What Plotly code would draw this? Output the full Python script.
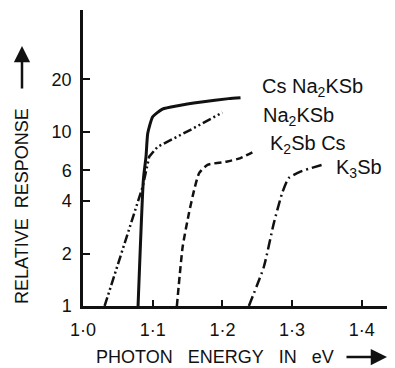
import math
import plotly.graph_objects as go

# ---- data ----
cs_na2ksb_x = [1.079, 1.0866, 1.0904, 1.0929, 1.100, 1.114, 1.136, 1.170, 1.209, 1.226]
cs_na2ksb_y = [1.0, 5.3, 7.2, 9.8, 12.2, 13.5, 14.1, 14.8, 15.5, 15.7]

na2ksb_x = [1.031, 1.0857, 1.095, 1.107, 1.155, 1.200]
na2ksb_y = [1.0, 4.85, 7.2, 8.2, 10.3, 12.9]

k2sbcs_x = [1.1347, 1.143, 1.152, 1.1595, 1.1666, 1.1786, 1.207, 1.226, 1.245]
k2sbcs_y = [1.0, 2.19, 3.41, 4.64, 5.79, 6.46, 6.75, 7.06, 7.7]

k3sb_x = [1.238, 1.2595, 1.2738, 1.2857, 1.295, 1.312, 1.343]
k3sb_y = [1.0, 1.68, 2.99, 4.44, 5.42, 5.91, 6.46]

x_tick_vals = [1.0, 1.1, 1.2, 1.3, 1.4]
x_tick_text = ["1·0", "1·1", "1·2", "1·3", "1·4"]
y_tick_vals = [1, 2, 4, 6, 10, 20]
y_tick_text = ["1", "2", "4", "6", "10", "20"]

labels = [
    ("Cs Na<sub>2</sub>KSb", 1.254, 18.0),
    ("Na<sub>2</sub>KSb", 1.255, 12.2),
    ("K<sub>2</sub>Sb Cs", 1.265, 8.4),
    ("K<sub>3</sub>Sb", 1.360, 6.13),
]

FONT = "Liberation Sans, Arial, sans-serif"
BLACK = "#111111"
SP = "&nbsp;"

fig = go.Figure()
fig.add_trace(go.Scatter(x=cs_na2ksb_x, y=cs_na2ksb_y, mode="lines",
                         line=dict(color=BLACK, width=3, shape="spline", smoothing=0.5)))
fig.add_trace(go.Scatter(x=na2ksb_x, y=na2ksb_y, mode="lines",
                         line=dict(color=BLACK, width=2.5, dash="9px,3px,2px,3px,2px,3px")))
fig.add_trace(go.Scatter(x=k2sbcs_x, y=k2sbcs_y, mode="lines",
                         line=dict(color=BLACK, width=2.5, dash="7px,4px", shape="spline", smoothing=0.5)))
fig.add_trace(go.Scatter(x=k3sb_x, y=k3sb_y, mode="lines",
                         line=dict(color=BLACK, width=2.5, dash="10px,4px,2px,4px", shape="spline", smoothing=0.5)))

for txt, lx, ly in labels:
    fig.add_annotation(x=lx, y=math.log10(ly), xref="x", yref="y", text=txt,
                       showarrow=False, xanchor="left", yanchor="middle",
                       font=dict(family=FONT, size=20, color=BLACK))

# axis titles (plot area spans 305 x 296 px)
fig.add_annotation(x=(94 - 83) / 305, y=(306 - 357) / 296, xref="paper", yref="paper",
                   text="PHOTON" + SP * 3 + "ENERGY" + SP * 3 + "IN" + SP * 3 + "eV",
                   showarrow=False, xanchor="left", yanchor="middle",
                   font=dict(family=FONT, size=18, color=BLACK))
fig.add_annotation(x=(387 - 83) / 305, y=(306 - 357) / 296, xref="paper", yref="paper",
                   ax=-42, ay=0, text="", showarrow=True, arrowhead=2,
                   arrowsize=1.3, arrowwidth=2.5, arrowcolor=BLACK)
fig.add_annotation(x=(22 - 83) / 305, y=(306 - 306) / 296, xref="paper", yref="paper",
                   text="RELATIVE" + SP * 2 + "RESPONSE", showarrow=False, textangle=-90,
                   xanchor="center", yanchor="bottom",
                   font=dict(family=FONT, size=18, color=BLACK))
fig.add_annotation(x=(22 - 83) / 305, y=(306 - 46) / 296, xref="paper", yref="paper",
                   ax=0, ay=44, text="", showarrow=True, arrowhead=2,
                   arrowsize=1.3, arrowwidth=2.5, arrowcolor=BLACK)

# page body has an 8px margin, so the figure is 8px smaller than the window
fig.update_layout(
    width=387, height=360,
    margin=dict(l=75, r=7, t=2, b=62),
    paper_bgcolor="white", plot_bgcolor="white",
    showlegend=False,
    font=dict(family=FONT, size=18, color=BLACK),
)
fig.update_xaxes(range=[1.0, 1.4376], tickvals=x_tick_vals, ticktext=x_tick_text,
                 ticks="inside", ticklen=6, tickwidth=2, tickcolor=BLACK,
                 showline=True, linewidth=2.5, linecolor=BLACK, showgrid=False,
                 zeroline=False, ticklabelstandoff=6)
fig.update_yaxes(type="log", range=[0, math.log10(50)], tickvals=y_tick_vals,
                 ticktext=y_tick_text, ticks="inside", ticklen=7, tickwidth=2,
                 tickcolor=BLACK, showline=True, linewidth=2.5, linecolor=BLACK,
                 showgrid=False, zeroline=False, ticklabelstandoff=5)

fig.write_html("out.html")
